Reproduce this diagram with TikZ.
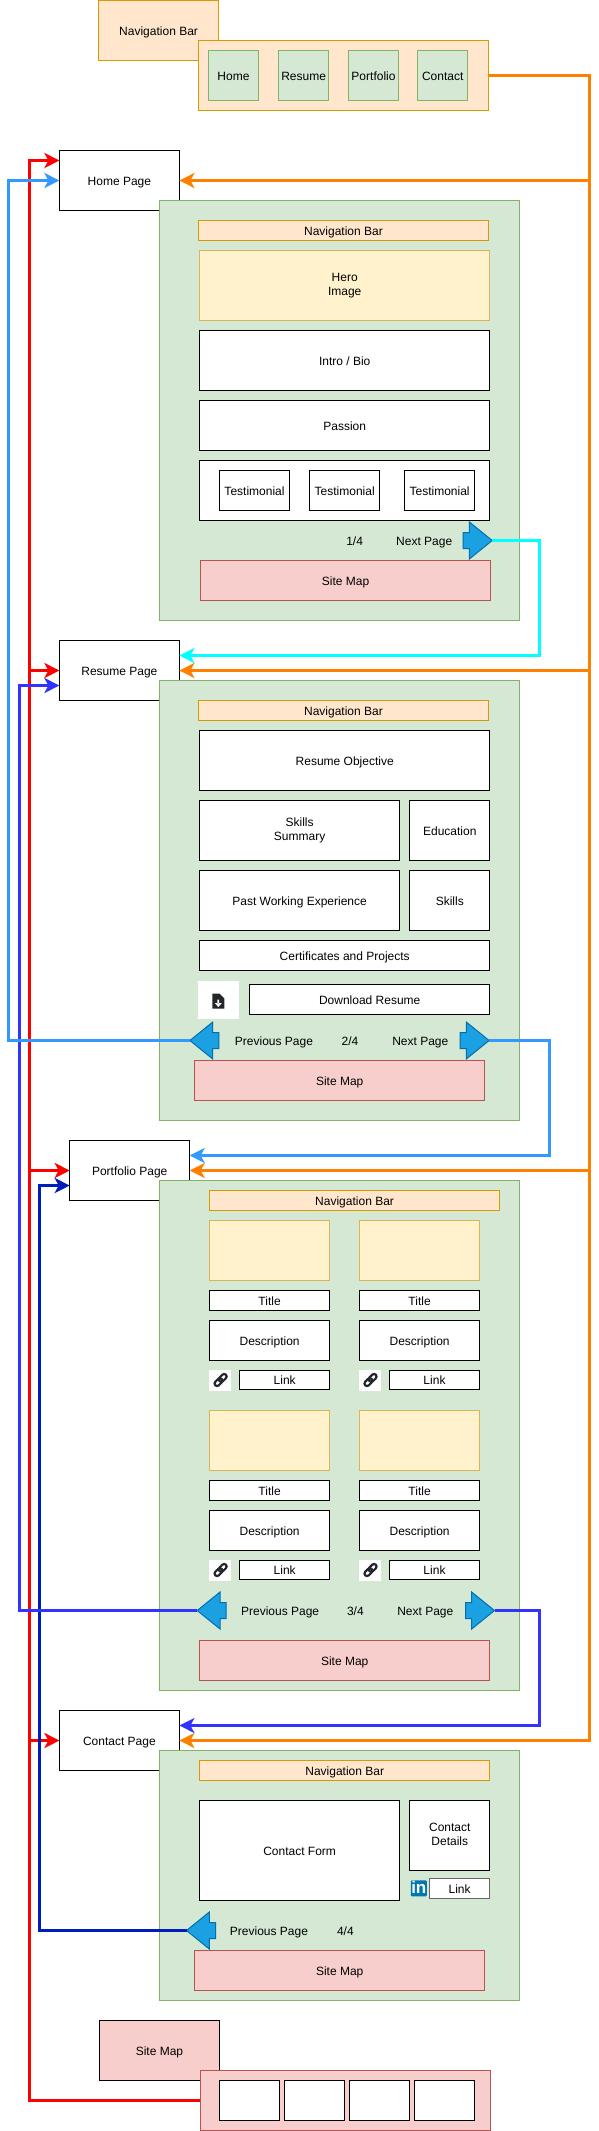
\documentclass[tikz,border=0pt]{standalone}
\usepackage{fontspec}
\setmainfont{Liberation Sans}
\usepackage{tikz}
\usetikzlibrary{arrows.meta,shapes.arrows}
\definecolor{navfill}{HTML}{FFE6CC}
\definecolor{navline}{HTML}{D79B00}
\definecolor{greenfill}{HTML}{D5E8D4}
\definecolor{greenline}{HTML}{82B366}
\definecolor{imgfill}{HTML}{FFF2CC}
\definecolor{imgline}{HTML}{D6B656}
\definecolor{mapfill}{HTML}{F8CECC}
\definecolor{mapline}{HTML}{B85450}
\definecolor{arrowfill}{HTML}{1BA1E2}
\definecolor{arrowline}{HTML}{006EAF}
\definecolor{linkorange}{HTML}{FF8000}
\definecolor{linkcyan}{HTML}{00FFFF}
\definecolor{linkred}{HTML}{FF0000}
\definecolor{linksky}{HTML}{3399FF}
\definecolor{linkblue}{HTML}{3333FF}
\definecolor{linkdark}{HTML}{001DBC}
\definecolor{inblue}{HTML}{0077B5}
\definecolor{iconink}{HTML}{23272B}
\newcommand{\tstrut}{\rule[-2.8pt]{0pt}{15pt}}
\tikzset{
	boxsize/.style 2 args={minimum width=#1,minimum height=#2},
	whitebox/.style={draw=black,fill=white},
	navbox/.style={draw=navline,fill=navfill},
	greenbox/.style={draw=greenline,fill=greenfill},
	imgbox/.style={draw=imgline,fill=imgfill},
	mapbox/.style={draw=mapline,fill=mapfill},
	iconbox/.style={fill=white},
	pagearrow/.style={single arrow,draw=arrowline,fill=arrowfill,anchor=tip,
		execute at begin node={},execute at end node={},
		minimum height=29,minimum width=31,single arrow head extend=10.5,
		single arrow tip angle=78,single arrow head indent=0},
	link/.style={line width=3pt,-{Stealth[length=15pt,width=15pt,inset=4pt]}}
}
\begin{document}
\begin{tikzpicture}
		[x=1pt,y=-1pt,line width=1pt,every node/.style={inner sep=0pt,outer sep=0pt,align=center,
		font=\fontsize{12}{14}\selectfont,execute at begin node=\tstrut,execute at end node=\tstrut}]
		\useasboundingbox (0,-0.5) rectangle (599,2130.5);
		%navigation bar legend
		\node[navbox,boxsize={120}{60}] (navtitle) at (158.6,30) {Navigation Bar};
		\node[navbox,boxsize={290}{70}] (navbar) at (343.5,75) {};
		\foreach \x/\name/\word in {233.5/homeitem/Home,303.6/resumeitem/Resume,373.5/portitem/Portfolio,442.7/contactitem/Contact}
		\node[greenbox,boxsize={50}{50}] (\name) at (\x,75) {\word};
		
		%pages behind the panels
		\node[whitebox,boxsize={120}{60}] (home) at (119.4,180) {Home Page};
		\node[whitebox,boxsize={120}{60}] (resume) at (119.4,670) {Resume Page};
		\node[whitebox,boxsize={120}{60}] (portfolio) at (129.7,1170) {Portfolio Page};
		\node[whitebox,boxsize={120}{60}] (contact) at (119.4,1740) {Contact Page};
		
		%home
		\node[greenbox,boxsize={360}{420}] (panel1) at (339.5,410) {};
		\node[navbox,boxsize={290}{20}] (nav1) at (343.5,230) {Navigation Bar};
		\node[imgbox,boxsize={290}{70}] (hero) at (344.7,285) {Hero\\Image};
		\node[whitebox,boxsize={290}{60}] (intro) at (344.7,360) {Intro / Bio};
		\node[whitebox,boxsize={290}{50}] (passion) at (344.7,425) {Passion};
		\node[whitebox,boxsize={290}{60}] (testimonials) at (344.7,490) {};
		\foreach \x/\n in {254.5/1,344.7/2,439.6/3}
		\node[whitebox,boxsize={70}{40}] (test\n) at (\x,490) {Testimonial};
		\node (count1) at (354.6,540) {1/4};
		\node (nexttext1) at (424.2,540) {Next Page};
		\node[pagearrow] (next1) at (492.2,540) {};
		\node[mapbox,boxsize={290}{40}] (map1) at (345.6,580) {Site Map};
		
		%resume
		\node[greenbox,boxsize={360}{440}] (panel2) at (339.5,900) {};
		\node[navbox,boxsize={290}{20}] (nav2) at (343.5,710) {Navigation Bar};
		\node[whitebox,boxsize={290}{60}] (objective) at (344.7,760) {Resume Objective};
		\node[whitebox,boxsize={200}{60}] (summary) at (299.6,830) {Skills\\Summary};
		\node[whitebox,boxsize={80}{60}] (education) at (449.8,830) {Education};
		\node[whitebox,boxsize={200}{60}] (experience) at (299.6,900) {Past Working Experience};
		\node[whitebox,boxsize={80}{60}] (skills) at (449.8,900) {Skills};
		\node[whitebox,boxsize={290}{30}] (certificates) at (344.7,955) {Certificates and Projects};
		\node[iconbox,boxsize={41}{38}] (fileicon) at (218.5,999) {};
		\fill[iconink] (212.3,993) -- (219.5,993) -- (224.3,998) -- (224.3,1008) -- (212.3,1008) -- cycle;
		\fill[white] (217.4,999) rectangle (219.2,1003) (214.8,1002.5) -- (221.8,1002.5) -- (218.3,1006.5) -- cycle;
		\node[whitebox,boxsize={240}{30}] (download) at (369.7,999) {Download Resume};
		\node[pagearrow,shape border rotate=180] (prev2) at (189.9,1040) {};
		\node (prevtext2) at (274,1040) {Previous Page};
		\node (count2) at (350,1040) {2/4};
		\node (nexttext2) at (420.3,1040) {Next Page};
		\node[pagearrow] (next2) at (489.1,1040) {};
		\node[mapbox,boxsize={290}{40}] (map2) at (339.7,1080) {Site Map};
		
		%portfolio
		\node[greenbox,boxsize={360}{510}] (panel3) at (339.5,1435) {};
		\node[navbox,boxsize={290}{20}] (nav3) at (354.6,1200) {Navigation Bar};
		\foreach \cx/\lx/\ix/\c in {269.6/284.7/220.1/a,419.6/434.5/370/b}
		\foreach \dy/\r in {0/1,190/2}
		{
		\node[imgbox,boxsize={120}{60}] (img\c\r) at (\cx,1250+\dy) {};
		\node[whitebox,boxsize={120}{20}] (title\c\r) at (\cx,1300+\dy) {Title};
		\node[whitebox,boxsize={120}{40}] (desc\c\r) at (\cx,1340+\dy) {Description};
		\node[iconbox,boxsize={22}{21}] (chain\c\r) at (\ix,1379.5+\dy) {};
		\begin{scope}[shift={(\ix+0.5,1379.5+\dy)},rotate=45,iconink,line width=2.2pt,rounded corners=2.5pt]
		\draw (-7.5,-2.5) rectangle (1.5,2.5);
		\draw (-1.5,-2.5) rectangle (7.5,2.5);
		\end{scope}
		\node[whitebox,boxsize={90}{19}] (link\c\r) at (\lx,1379+\dy) {Link};
		}
		\node[pagearrow,shape border rotate=180] (prev3) at (197.2,1610) {};
		\node (prevtext3) at (280.1,1610) {Previous Page};
		\node (count3) at (355.4,1610) {3/4};
		\node (nexttext3) at (425.3,1610) {Next Page};
		\node[pagearrow] (next3) at (494.5,1610) {};
		\node[mapbox,boxsize={290}{40}] (map3) at (344.7,1660) {Site Map};
		
		%contact
		\node[greenbox,boxsize={360}{250}] (panel4) at (339.5,1875) {};
		\node[navbox,boxsize={290}{20}] (nav4) at (344.7,1770) {Navigation Bar};
		\node[whitebox,boxsize={200}{100}] (form) at (299.6,1850) {Contact Form};
		\node[whitebox,boxsize={80}{70}] (details) at (449.8,1835) {Contact\\Details};
		\node[fill=inblue,text=white,rounded corners=1pt,boxsize={16}{16},font=\bfseries\fontsize{17}{17}\selectfont] (inicon) at (418.8,1887.8) {in};
		\node[whitebox,draw=black!60,boxsize={60}{20}] (contactlink) at (459.6,1888) {Link};
		\node[pagearrow,shape border rotate=180] (prev4) at (186.5,1930) {};
		\node (prevtext4) at (269,1930) {Previous Page};
		\node (count4) at (345.4,1930) {4/4};
		\node[mapbox,boxsize={290}{40}] (map4) at (339.7,1970) {Site Map};
		
		%site map legend
		\node[whitebox,fill=mapfill,boxsize={120}{60}] (maptitle) at (159.5,2050) {Site Map};
		\node[mapbox,boxsize={290}{60}] (mapbar) at (345.2,2100) {};
		\foreach \x/\n in {249.5/1,314.5/2,379.6/3,444.6/4}
		\node[whitebox,boxsize={60}{40}] (mapcell\n) at (\x,2100) {};
		
		%bends and free ends of the connectors
		\coordinate (redtop) at (29.5,160);
		\coordinate (homeA) at (59.4,160);
		\coordinate (orangeend) at (589.5,1740);
		\coordinate (cyanbend) at (539.5,655);
		\coordinate (resumeA) at (179.4,655);
		\coordinate (skybend) at (8.5,180);
		\coordinate (skyright) at (549.5,1155);
		\coordinate (portfolioA) at (189.7,1155);
		\coordinate (bluebend) at (19.5,685);
		\coordinate (resumeB) at (59.4,685);
		\coordinate (blueright) at (539.5,1725);
		\coordinate (contactA) at (179.4,1725);
		\coordinate (darkbend) at (39.4,1185);
		\coordinate (portfolioB) at (69.7,1185);
		
		\draw[link,linkorange] (navbar.east) -| (orangeend) -- (contact.east);
		\foreach \to in {home,resume,portfolio}
		\draw[link,linkorange] (orangeend |- \to.east) -- (\to.east);
		\draw[link,linkcyan] (next1.tip) -| (cyanbend) -- (resumeA);
		\draw[link,linkred] (mapbar.west) -| (redtop) -- (homeA);
		\foreach \to in {resume,portfolio,contact}
		\draw[link,linkred] (redtop |- \to.west) -- (\to.west);
		\draw[link,linkdark] (prev4.tip) -| (darkbend) -- (portfolioB);
		\draw[link,linkblue] (prev3.tip) -| (bluebend) -- (resumeB);
		\draw[link,linkblue] (next3.tip) -| (blueright) -- (contactA);
		\draw[link,linksky] (prev2.tip) -| (skybend) -- (home.west);
		\draw[link,linksky] (next2.tip) -| (skyright) -- (portfolioA);
	\end{tikzpicture}
\end{document}
